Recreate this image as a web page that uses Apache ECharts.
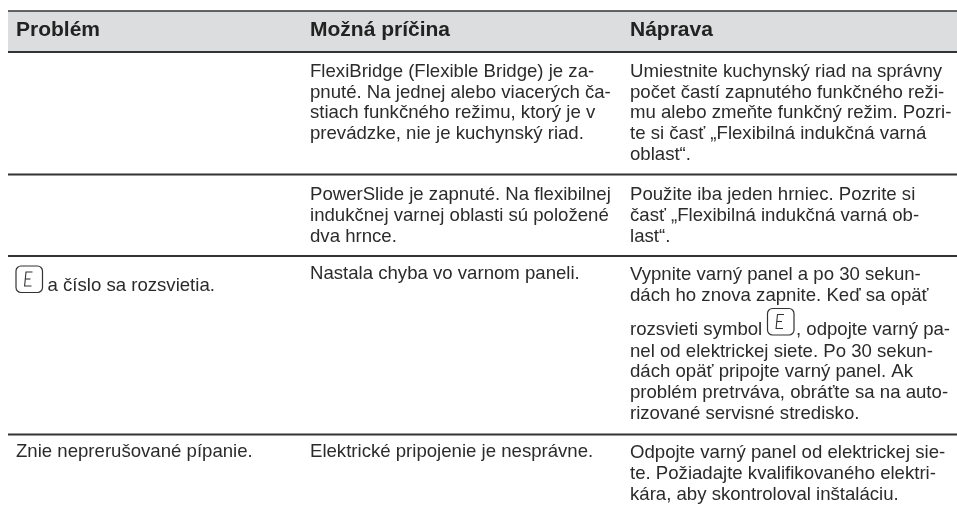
<!DOCTYPE html>
<html><head><meta charset="utf-8">
<style>html,body{margin:0;padding:0;background:#fff}#c{width:957px;height:511px}</style>
<script src="https://cdn.jsdelivr.net/npm/echarts@6/dist/echarts.min.js"></script>
</head><body><div id="c"></div>
<script>
const headers = ["Problém", "Možná príčina", "Náprava"];
const row1Cause = ["FlexiBridge (Flexible Bridge) je za-","pnuté. Na jednej alebo viacerých ča-","stiach funkčného režimu, ktorý je v","prevádzke, nie je kuchynský riad."];
const row1Fix = ["Umiestnite kuchynský riad na správny","počet častí zapnutého funkčného reži-","mu alebo zmeňte funkčný režim. Pozri-","te si časť „Flexibilná indukčná varná","oblast“."];
const row2Cause = ["PowerSlide je zapnuté. Na flexibilnej","indukčnej varnej oblasti sú položené","dva hrnce."];
const row2Fix = ["Použite iba jeden hrniec. Pozrite si","časť „Flexibilná indukčná varná ob-","last“."];
const row3Problem = ["a číslo sa rozsvietia."];
const row3Cause = ["Nastala chyba vo varnom paneli."];
const row3FixA = ["Vypnite varný panel a po 30 sekun-","dách ho znova zapnite. Keď sa opäť"];
const row3FixB = ["rozsvieti symbol"];
const row3FixC = [", odpojte varný pa-"];
const row3FixD = ["nel od elektrickej siete. Po 30 sekun-","dách opäť pripojte varný panel. Ak","problém pretrváva, obráťte sa na auto-","rizované servisné stredisko."];
const row4Problem = ["Znie neprerušované pípanie."];
const row4Cause = ["Elektrické pripojenie je nesprávne."];
const row4Fix = ["Odpojte varný panel od elektrickej sie-","te. Požiadajte kvalifikovaného elektri-","kára, aby skontroloval inštaláciu."];

const FONT = '"Liberation Sans", Arial, sans-serif';
const X = [16, 310, 630], LH = 20.75, FS = 18.6, INK = '#2b2b2b';
const g = [];
function txt(s, x, y, o) {
  g.push({type:'text', x, y, silent:true, style:Object.assign({text:s, fontFamily:FONT, fontSize:FS, fill:INK, verticalAlign:'middle', align:'left'}, o||{})});
}
function block(lines, x, y) { lines.forEach((s,i)=>txt(s, x, y+i*LH)); }
function rule(y, w) {
  g.push({type:'line', silent:true, shape:{x1:8,y1:y,x2:957,y2:y}, style:{stroke:'#333333', lineWidth:w}});
}
function icon(x, y) {
  const w=26.5, h=26.5, c='#333333';
  g.push({type:'rect', silent:true, shape:{x,y,width:w,height:h,r:5}, style:{fill:'none', stroke:c, lineWidth:1.2}});
  g.push({type:'polyline', silent:true, shape:{points:[[x+16.5,y+6],[x+10,y+6],[x+8.6,y+20],[x+15.5,y+20]]}, style:{fill:'none', stroke:c, lineWidth:1.1}});
  g.push({type:'line', silent:true, shape:{x1:x+9.3,y1:y+13,x2:x+14.5,y2:y+13}, style:{stroke:c, lineWidth:1.1}});
}
g.push({type:'rect', silent:true, shape:{x:8,y:11,width:949,height:41}, style:{fill:'#dcddde'}});
rule(11, 1.5); rule(52, 2); rule(174.5, 2); rule(256, 2); rule(434.5, 2);
headers.forEach((h,i)=>txt(h, X[i], 30.5, {fontWeight:'bold', fontSize:21, fill:'#222222'}));
block(row1Cause, X[1], 71.8);
block(row1Fix, X[2], 71.8);
block(row2Cause, X[1], 195);
block(row2Fix, X[2], 195);
block(row3Problem, 47.5, 286);
block(row3Cause, X[1], 273.5);
block(row3FixA, X[2], 275);
block(row3FixB, X[2], 330);
block(row3FixC, 796, 330);
icon(767.5, 308.5);
block(row3FixD, X[2], 351.5);
block(row4Problem, X[0], 452);
block(row4Cause, X[1], 452);
block(row4Fix, X[2], 453);
icon(16, 266);
const chart = echarts.init(document.getElementById('c'), null, {renderer:'canvas'});
chart.setOption({animation:false, backgroundColor:'#ffffff', graphic:{elements:g}});
</script></body></html>
